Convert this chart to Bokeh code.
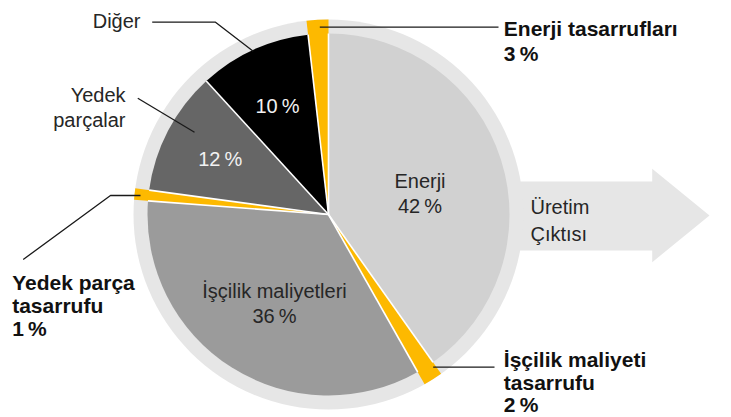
import math
from bokeh.plotting import figure
from bokeh.models import Range1d
from bokeh.core.properties import value
from bokeh.embed import file_html
from bokeh.resources import INLINE

# ---------------- data ----------------
categories = ["Enerji", "İşçilik maliyetleri", "Yedek parçalar", "Diğer"]
shares = [42, 36, 12, 10]                       # % of life-cycle cost
savings_names = ["Enerji tasarrufları", "İşçilik maliyeti tasarrufu", "Yedek parça tasarrufu"]
savings_values = [3, 2, 1]                      # labelled savings, %
savings_drawn = [1.8, 1.6, 0.95]                # angular width of the yellow wedges as drawn, % of circle
output_label = ["Üretim", "Çıktısı"]

# ---------------- style ----------------
slice_colors = ["#d1d1d1", "#9b9b9b", "#666666", "#000000"]
saving_color = "#fdb900"
ring_color = "#e6e6e6"
FONT = value("Liberation Sans")
PCT = "\u2009%"

W, H = 731, 417
def Y(img_y):
    return H - img_y

p = figure(width=W, height=H, x_range=Range1d(0, W), y_range=Range1d(0, H),
           output_backend="svg", toolbar_location=None, min_border=0,
           x_axis_location=None, y_axis_location=None)
p.grid.visible = False
p.outline_line_color = None
p.background_fill_color = "white"
p.border_fill_color = "white"

CX, CY = 328, Y(214)
R_PIE, R_RING = 181, 195

# arrow (behind the pie)
ax = [CX, 651.7, 651.7, 709, 651.7, 651.7, CX]
ay = [Y(v) for v in [181, 181, 168.3, 215, 261.7, 250, 250]]
p.patch(ax, ay, fill_color=ring_color, line_color=None)

# outer ring
p.circle(x=[CX], y=[CY], radius=R_RING, fill_color=ring_color, line_color=None)

def b_ang(pct):
    # clockwise-from-top percentage -> bokeh radians (counterclockwise from +x)
    return math.radians(90 - pct * 3.6)

# compute slice geometry (clockwise from top); each saving wedge sits at the start of its category
cum = -savings_drawn[0]
main_s, main_e, sav_s, sav_e = [], [], [], []
for k, s in enumerate(shares):
    start = cum
    if k < len(savings_drawn):
        sav_s.append(start)
        sav_e.append(start + savings_drawn[k])
        main_s.append(start + savings_drawn[k])
    else:
        main_s.append(start)
    main_e.append(start + s)
    cum += s

n = len(shares)
p.wedge(x=[CX] * n, y=[CY] * n, radius=R_PIE,
        start_angle=[b_ang(a) for a in main_s], end_angle=[b_ang(a) for a in main_e],
        direction="clock", fill_color=slice_colors, line_color=None)

m = len(sav_s)
p.wedge(x=[CX] * m, y=[CY] * m, radius=R_RING,
        start_angle=[b_ang(a) for a in sav_s], end_angle=[b_ang(a) for a in sav_e],
        direction="clock", fill_color=saving_color, line_color=None)

# white separators
bounds = main_s + sav_s
x1 = [CX + R_PIE * math.cos(b_ang(a)) for a in bounds]
y1 = [CY + R_PIE * math.sin(b_ang(a)) for a in bounds]
p.segment(x0=[CX] * len(bounds), y0=[CY] * len(bounds), x1=x1, y1=y1,
          line_color="white", line_width=1.6)

# leader lines
LC = "#1a1a1a"
leaders = [
    [(151.7, 21.7), (215, 21.7), (252.7, 50.7)],      # Diğer
    [(137.3, 97.7), (194, 131.7)],                    # Yedek parçalar
    [(22.7, 259), (110, 195), (140, 195)],            # Yedek parça tasarrufu
    [(432.7, 366.7), (494, 366.7)],                   # İşçilik maliyeti tasarrufu
    [(319.3, 26.7), (498, 26.7)],                     # Enerji tasarrufları
]
p.multi_line(xs=[[pt[0] for pt in L] for L in leaders],
             ys=[[Y(pt[1]) for pt in L] for L in leaders],
             line_color=LC, line_width=1.3)

def put_text(lines, x, baselines, align, color, bold=False, size="20px"):
    p.text(x=[x] * len(lines), y=[Y(b) for b in baselines], text=lines,
           text_align=align, text_baseline="alphabetic", text_color=color,
           text_font=FONT, text_font_size=size,
           text_font_style="bold" if bold else "normal")

DARK = "#262626"
LIGHT = "#f2f2f2"
# inside labels
put_text([categories[0], f"{shares[0]}{PCT}"], 419.5, [180, 205.7], "center", DARK)
put_text([categories[1], f"{shares[1]}{PCT}"], 274, [290, 315.7], "center", DARK)
put_text([f"{shares[2]}{PCT}"], 219.7, [158.3], "center", LIGHT)
put_text([f"{shares[3]}{PCT}"], 277, [105], "center", LIGHT)

# outside labels
put_text([categories[3]], 140, [20.7], "right", DARK)
put_text(categories[2].split(" "), 125, [94.3, 119.3], "right", DARK)
put_text(output_label, 530, [206, 233], "left", DARK)

BOLD = "#111111"
BS = "21px"
put_text([savings_names[0], f"{savings_values[0]}{PCT}"], 503.3, [28.3, 53.3], "left", BOLD, bold=True, size=BS)
put_text(["İşçilik maliyeti", "tasarrufu", f"{savings_values[1]}{PCT}"], 503.3, [359, 381.5, 404], "left", BOLD, bold=True, size=BS)
put_text(["Yedek parça", "tasarrufu", f"{savings_values[2]}{PCT}"], 11.7, [281.7, 305, 328.3], "left", BOLD, bold=True, size=BS)

open("out.html", "w").write(file_html(p, INLINE))
